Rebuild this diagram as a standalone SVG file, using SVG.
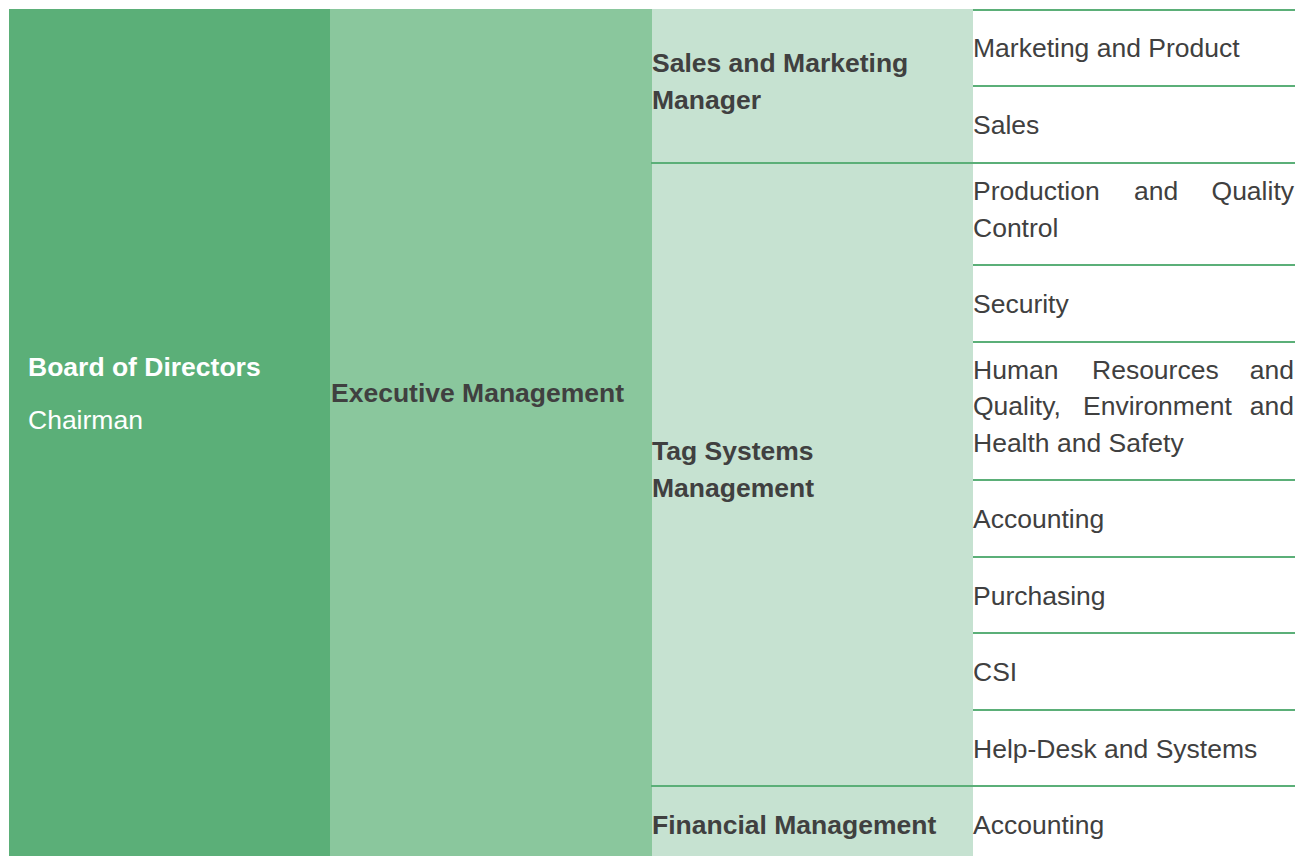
<svg xmlns="http://www.w3.org/2000/svg" width="1300" height="856" viewBox="0 0 1300 856">
<style>
text{font-family:"Liberation Sans",Arial,sans-serif;font-size:26.5px;fill:#404040}
.b{font-weight:bold}
.w{fill:#ffffff}
.sep{stroke:#5BAF78;stroke-width:2;fill:none}
</style>
<rect width="1300" height="856" fill="#ffffff"/>
<g id="board">
<rect x="9" y="9" width="321" height="847" fill="#5BAF78"/>
<text class="b w" x="28" y="376">Board of Directors</text>
<text class="w" x="28" y="429">Chairman</text>
</g>
<g id="executive">
<rect x="330" y="9" width="322" height="847" fill="#8AC79D"/>
<text class="b" x="331" y="402">Executive Management</text>
</g>
<g id="sales-marketing-manager">
<rect x="652" y="9" width="321" height="154" fill="#C6E2D1"/>
<text class="b" x="652" y="72">Sales and Marketing</text>
<text class="b" x="652" y="109">Manager</text>
</g>
<g id="tag-systems">
<rect x="652" y="163" width="321" height="623" fill="#C6E2D1"/>
<text class="b" x="652" y="460">Tag Systems</text>
<text class="b" x="652" y="497">Management</text>
</g>
<g id="financial">
<rect x="652" y="786" width="321" height="70" fill="#C6E2D1"/>
<text class="b" x="652" y="834">Financial Management</text>
</g>
<g id="marketing-product"><text x="973" y="57">Marketing and Product</text></g>
<g id="sales"><text x="973" y="134">Sales</text></g>
<g id="production-quality">
<text x="973" y="200">Production</text>
<text x="1134" y="200">and</text>
<text x="1294" y="200" text-anchor="end">Quality</text>
<text x="973" y="237">Control</text>
</g>
<g id="security"><text x="973" y="313">Security</text></g>
<g id="hr-qehs">
<text x="973" y="379">Human</text>
<text x="1092" y="379">Resources</text>
<text x="1294" y="379" text-anchor="end">and</text>
<text x="973" y="415">Quality,</text>
<text x="1083" y="415">Environment</text>
<text x="1294" y="415" text-anchor="end">and</text>
<text x="973" y="452">Health and Safety</text>
</g>
<g id="accounting-tag"><text x="973" y="528">Accounting</text></g>
<g id="purchasing"><text x="973" y="605">Purchasing</text></g>
<g id="csi"><text x="973" y="681">CSI</text></g>
<g id="helpdesk"><text x="973" y="758">Help-Desk and Systems</text></g>
<g id="accounting-fin"><text x="973" y="834">Accounting</text></g>
<g id="connectors">
<line class="sep" x1="973" y1="10" x2="1295" y2="10"/>
<line class="sep" x1="973" y1="86" x2="1295" y2="86"/>
<line class="sep" x1="651" y1="163" x2="1295" y2="163"/>
<line class="sep" x1="973" y1="265" x2="1295" y2="265"/>
<line class="sep" x1="973" y1="342" x2="1295" y2="342"/>
<line class="sep" x1="973" y1="480" x2="1295" y2="480"/>
<line class="sep" x1="973" y1="557" x2="1295" y2="557"/>
<line class="sep" x1="973" y1="633" x2="1295" y2="633"/>
<line class="sep" x1="973" y1="710" x2="1295" y2="710"/>
<line class="sep" x1="651" y1="786" x2="1295" y2="786"/>
</g>
</svg>
